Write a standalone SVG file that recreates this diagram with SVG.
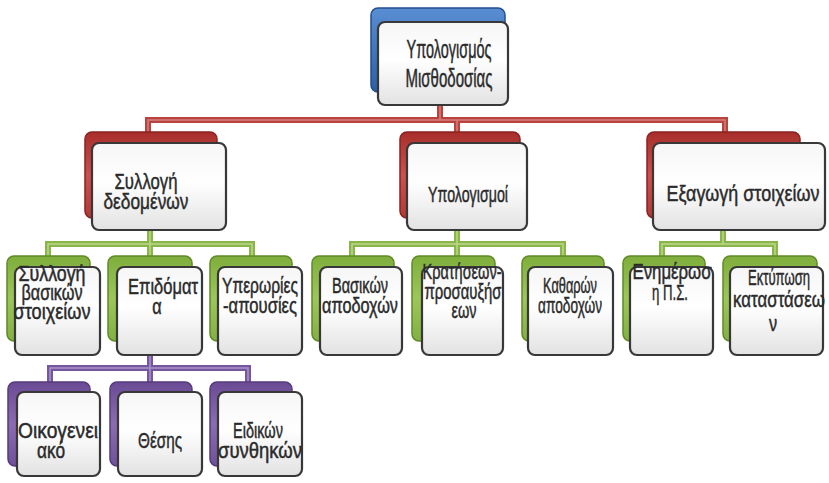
<svg xmlns="http://www.w3.org/2000/svg" width="829" height="483" viewBox="0 0 829 483">
<defs>
<linearGradient id="gBlue" x1="0" y1="0" x2="0" y2="1"><stop offset="0" stop-color="#5a8ed3"/><stop offset="1" stop-color="#2b5fa6"/></linearGradient>
<linearGradient id="gRed" x1="0" y1="0" x2="0" y2="1"><stop offset="0" stop-color="#a82e2b"/><stop offset="0.5" stop-color="#c9524e"/><stop offset="1" stop-color="#b03a37"/></linearGradient>
<linearGradient id="gGreen" x1="0" y1="0" x2="0" y2="1"><stop offset="0" stop-color="#7fae3c"/><stop offset="0.5" stop-color="#9cc65a"/><stop offset="1" stop-color="#83b043"/></linearGradient>
<linearGradient id="gPurple" x1="0" y1="0" x2="0" y2="1"><stop offset="0" stop-color="#6a4b94"/><stop offset="0.5" stop-color="#8a6cb0"/><stop offset="1" stop-color="#6f519a"/></linearGradient>
<linearGradient id="gFront" x1="0" y1="0" x2="0" y2="1"><stop offset="0" stop-color="#f6f6f6"/><stop offset="0.45" stop-color="#ffffff"/><stop offset="1" stop-color="#e2e2e2"/></linearGradient>
</defs>
<style>
.blue{fill:url(#gBlue);stroke:#244f8c;stroke-width:1.5}
.red{fill:url(#gRed);stroke:#8a2220;stroke-width:1.5}
.green{fill:url(#gGreen);stroke:#5f8a26;stroke-width:1.5}
.purple{fill:url(#gPurple);stroke:#553b7c;stroke-width:1.5}
.front{fill:url(#gFront);stroke:#383838;stroke-width:2.2}
text{font-family:"Liberation Sans",Arial,sans-serif;fill:#2a2a2a;stroke:#2a2a2a;stroke-width:0.35px;text-anchor:middle}
.f0{font-size:18.5px}
.f1{font-size:17px}
.f2{font-size:16.3px}
.cR{fill:none;stroke:#b8433f;stroke-width:6}
.cRi{fill:none;stroke:#d8807c;stroke-width:1.5}
.cG{fill:none;stroke:#8ab548;stroke-width:6}
.cGi{fill:none;stroke:#bcd88c;stroke-width:1.5}
.cP{fill:none;stroke:#7457a0;stroke-width:6}
.cPi{fill:none;stroke:#a996c6;stroke-width:1.5}
</style>
<rect width="829" height="483" fill="#ffffff"/>
<g id="connectors">
<path class="cR" d="M148,134 V120 H725 V134 M440,104 V120 M457,120 V134"/>
<path class="cRi" d="M148,134 V120 H725 V134 M440,104 V120 M457,120 V134"/>
<path class="cG" d="M48,258 V244 H252 V258 M150,230 V258 M352,258 V244 H563 V258 M457,230 V258 M662,258 V244 H775 V258 M723,230 V244"/>
<path class="cGi" d="M48,258 V244 H252 V258 M150,230 V258 M352,258 V244 H563 V258 M457,230 V258 M662,258 V244 H775 V258 M723,230 V244"/>
<path class="cP" d="M50,384 V368 H248 V384 M150,355 V384"/>
<path class="cPi" d="M50,384 V368 H248 V384 M150,355 V384"/>
</g>
<g id="n-root">
<rect class="blue" x="371" y="8" width="134" height="84" rx="7"/>
<rect class="front" x="378" y="22" width="130" height="83" rx="7"/>
<text class="f0" transform="translate(449,58) scale(1,1.35)" textLength="85" lengthAdjust="spacingAndGlyphs">Υπολογισμός</text>
<text class="f0" transform="translate(449,87) scale(1,1.35)" textLength="87" lengthAdjust="spacingAndGlyphs">Μισθοδοσίας</text>
</g>
<g id="n-syllogi">
<rect class="red" x="85" y="132" width="132" height="86" rx="7"/>
<rect class="front" x="92" y="143" width="134" height="87" rx="7"/>
<text class="f1" transform="translate(146,189) scale(1,1.35)" textLength="63" lengthAdjust="spacingAndGlyphs">Συλλογή</text>
<text class="f1" transform="translate(146,209) scale(1,1.35)" textLength="85" lengthAdjust="spacingAndGlyphs">δεδομένων</text>
</g>
<g id="n-ypologismoi">
<rect class="red" x="400" y="132" width="120" height="86" rx="7"/>
<rect class="front" x="407" y="143" width="120" height="87" rx="7"/>
<text class="f1" transform="translate(468,202) scale(1,1.35)" textLength="80" lengthAdjust="spacingAndGlyphs">Υπολογισμοί</text>
</g>
<g id="n-exagogi">
<rect class="red" x="647" y="132" width="153" height="86" rx="7"/>
<rect class="front" x="653" y="143" width="172" height="87" rx="7"/>
<text class="f1" transform="translate(743,201) scale(1,1.35)" textLength="153" lengthAdjust="spacingAndGlyphs">Εξαγωγή στοιχείων</text>
</g>
<g id="n-basika">
<rect class="green" x="7" y="256" width="83" height="85" rx="7"/>
<rect class="front" x="15" y="267" width="85" height="88" rx="7"/>
<text class="f2" transform="translate(52,281) scale(1,1.35)" textLength="67" lengthAdjust="spacingAndGlyphs">Συλλογή</text>
<text class="f2" transform="translate(52,300) scale(1,1.35)" textLength="61" lengthAdjust="spacingAndGlyphs">βασικών</text>
<text class="f2" transform="translate(52,319) scale(1,1.35)" textLength="77" lengthAdjust="spacingAndGlyphs">στοιχείων</text>
</g>
<g id="n-epidomata">
<rect class="green" x="108" y="256" width="84" height="85" rx="7"/>
<rect class="front" x="117" y="267" width="85" height="88" rx="7"/>
<text class="f2" transform="translate(163,294) scale(1,1.35)" textLength="70" lengthAdjust="spacingAndGlyphs">Επιδόματ</text>
<text class="f2" transform="translate(157,314) scale(1,1.35)">α</text>
</g>
<g id="n-yperories">
<rect class="green" x="210" y="256" width="82" height="85" rx="7"/>
<rect class="front" x="218" y="267" width="84" height="88" rx="7"/>
<text class="f2" transform="translate(260,293) scale(1,1.35)" textLength="76" lengthAdjust="spacingAndGlyphs">Υπερωρίες</text>
<text class="f2" transform="translate(260,313) scale(1,1.35)" textLength="74" lengthAdjust="spacingAndGlyphs">-απουσίες</text>
</g>
<g id="n-vasikon">
<rect class="green" x="312" y="256" width="82" height="85" rx="7"/>
<rect class="front" x="320" y="267" width="82" height="88" rx="7"/>
<text class="f2" transform="translate(360,293) scale(1,1.35)" textLength="56" lengthAdjust="spacingAndGlyphs">Βασικών</text>
<text class="f2" transform="translate(360,313) scale(1,1.35)" textLength="76" lengthAdjust="spacingAndGlyphs">αποδοχών</text>
</g>
<g id="n-kratiseon">
<rect class="green" x="412" y="256" width="83" height="85" rx="7"/>
<rect class="front" x="422" y="267" width="81" height="88" rx="7"/>
<text class="f2" transform="translate(462,279) scale(1,1.35)" textLength="79" lengthAdjust="spacingAndGlyphs">Κρατήσεων-</text>
<text class="f2" transform="translate(463,299) scale(1,1.35)" textLength="77" lengthAdjust="spacingAndGlyphs">προσαυξήσ</text>
<text class="f2" transform="translate(464,318) scale(1,1.35)" textLength="25" lengthAdjust="spacingAndGlyphs">εων</text>
</g>
<g id="n-katharon">
<rect class="green" x="522" y="256" width="82" height="85" rx="7"/>
<rect class="front" x="528" y="267" width="85" height="88" rx="7"/>
<text class="f2" transform="translate(570,293) scale(1,1.35)" textLength="54" lengthAdjust="spacingAndGlyphs">Καθαρών</text>
<text class="f2" transform="translate(570,313) scale(1,1.35)" textLength="64" lengthAdjust="spacingAndGlyphs">αποδοχών</text>
</g>
<g id="n-enimerosi">
<rect class="green" x="623" y="256" width="82" height="85" rx="7"/>
<rect class="front" x="630" y="267" width="83" height="88" rx="7"/>
<text class="f2" transform="translate(672,279) scale(1,1.35)" textLength="79" lengthAdjust="spacingAndGlyphs">Ενημέρωσ</text>
<text class="f2" transform="translate(670,300) scale(1,1.35)" textLength="36" lengthAdjust="spacingAndGlyphs">η Π.Σ.</text>
</g>
<g id="n-ektyposi">
<rect class="green" x="723" y="256" width="94" height="85" rx="7"/>
<rect class="front" x="730" y="267" width="93" height="88" rx="7"/>
<text class="f2" transform="translate(779,285) scale(1,1.35)" textLength="62" lengthAdjust="spacingAndGlyphs">Εκτύπωση</text>
<text class="f2" transform="translate(779,307) scale(1,1.35)" textLength="92" lengthAdjust="spacingAndGlyphs">καταστάσεω</text>
<text class="f2" transform="translate(773,331) scale(1,1.35)">ν</text>
</g>
<g id="n-oikogeneiako">
<rect class="purple" x="8" y="382" width="82" height="84" rx="7"/>
<rect class="front" x="17" y="392" width="83" height="84" rx="7"/>
<text class="f2" transform="translate(58,438) scale(1,1.35)" textLength="80" lengthAdjust="spacingAndGlyphs">Οικογενει</text>
<text class="f2" transform="translate(51,458) scale(1,1.35)" textLength="28" lengthAdjust="spacingAndGlyphs">ακό</text>
</g>
<g id="n-thesis">
<rect class="purple" x="110" y="382" width="82" height="84" rx="7"/>
<rect class="front" x="118" y="392" width="84" height="84" rx="7"/>
<text class="f2" transform="translate(160,448) scale(1,1.35)" textLength="44" lengthAdjust="spacingAndGlyphs">Θέσης</text>
</g>
<g id="n-eidikon">
<rect class="purple" x="210" y="382" width="82" height="84" rx="7"/>
<rect class="front" x="218" y="392" width="84" height="84" rx="7"/>
<text class="f2" transform="translate(258,438) scale(1,1.35)" textLength="50" lengthAdjust="spacingAndGlyphs">Ειδικών</text>
<text class="f2" transform="translate(260,458) scale(1,1.35)" textLength="84" lengthAdjust="spacingAndGlyphs">συνθηκών</text>
</g>
</svg>
